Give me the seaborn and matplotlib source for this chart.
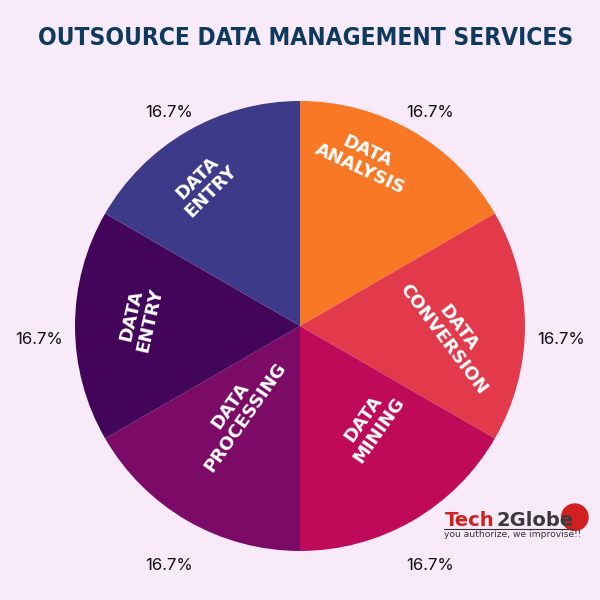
import matplotlib.pyplot as plt
import seaborn as sns
import numpy as np
from matplotlib.patches import Circle

# data
services = ["DATA\nANALYSIS", "DATA\nCONVERSION", "DATA\nMINING",
            "DATA\nPROCESSING", "DATA\nENTRY", "DATA\nENTRY"]
shares = [1, 1, 1, 1, 1, 1]
colors = ["#F97826", "#E23A4A", "#BF0A5A", "#7C0B68", "#43055A", "#3E3A8A"]

# label placement tweaks (radius, angle shift, rotation)
label_r = [0.79, 0.67, 0.54, 0.47, 0.71, 0.76]
label_shift = [9, -3, 6, -6, -3, 4]
label_rot = [-25, -53, 55, 55, 77, 45]

bg = "#F8EAF8"
sns.set_style("white")

fig = plt.figure(figsize=(6, 6), dpi=100, facecolor=bg)
ax = fig.add_axes([0.125, 0.0817, 0.75, 0.75])
ax.set_facecolor(bg)

wedges, texts, autotexts = ax.pie(
    shares, colors=colors, startangle=90, counterclock=False,
    autopct="%1.1f%%", pctdistance=1.16,
    wedgeprops=dict(linewidth=0),
    textprops=dict(fontsize=12, color="#111111", family="Inter"))
for t in autotexts:
    x, y = t.get_position()
    t.set_position((x, y - 0.058))

for w, lab, r, sh, rot in zip(wedges, services, label_r, label_shift, label_rot):
    ang = np.deg2rad((w.theta1 + w.theta2) / 2 + sh)
    ax.text(r * np.cos(ang), r * np.sin(ang), lab, color="white",
            fontsize=13, fontweight="heavy", family="DejaVu Sans",
            ha="center", va="center", multialignment="center",
            rotation=rot, rotation_mode="anchor", linespacing=1.05)

ax.set_xlim(-1, 1)
ax.set_ylim(-1, 1)
ax.set_aspect("equal")
ax.axis("off")

fig.text(0.51, 0.937, "OUTSOURCE DATA MANAGEMENT SERVICES", ha="center",
         va="center", fontsize=17.6, fontweight="bold", fontstretch="condensed",
         family="DejaVu Sans", color="#0F3A60")

# logo
fig.add_artist(Circle((0.958, 0.138), 0.022, color="#D02020",
                      transform=fig.transFigure))
t1 = fig.text(0.742, 0.123, "Tech", fontsize=14, fontweight="bold",
              color="#D02020", ha="left", va="baseline")
fig.canvas.draw()
bb = t1.get_window_extent().transformed(fig.transFigure.inverted())
fig.text(bb.x1 + 0.002, 0.123, "2Globe", fontsize=14, fontweight="bold",
         color="#3A3A3A", ha="left", va="baseline")
fig.text(0.74, 0.105, "you authorize, we improvise!!", fontsize=6.6,
         color="#333333", ha="left", va="baseline")
fig.add_artist(plt.Line2D([0.74, 0.955], [0.119, 0.119], color="#333333",
                          lw=0.8, transform=fig.transFigure))

fig.savefig("out.png", dpi=100, facecolor=bg)
